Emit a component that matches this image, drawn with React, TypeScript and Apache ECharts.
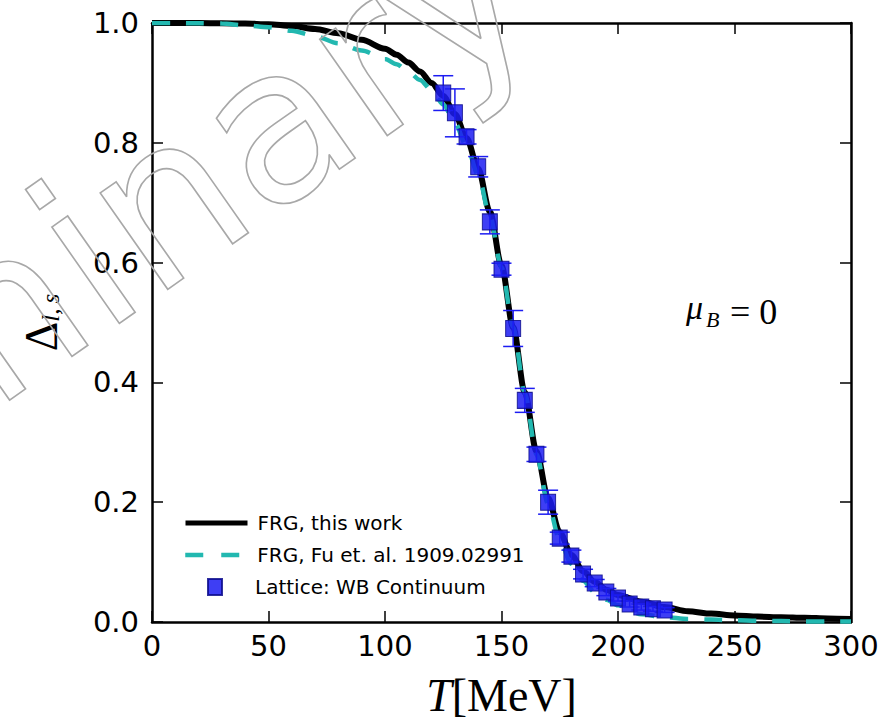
import React, { useEffect, useRef } from 'react';
import * as echarts from 'echarts';

// ---- data ----
const T_CURVE = [0, 10, 20, 30, 40, 50, 60, 70, 80, 90, 100, 105, 110, 115, 120, 125, 130, 135, 140, 145, 150, 155, 160, 165, 170, 175, 180, 185, 190, 195, 200, 210, 220, 230, 240, 250, 260, 270, 280, 290, 300];
const FRG_THIS_WORK = [1.0, 1.0, 1.0, 0.9995, 0.999, 0.998, 0.995, 0.99, 0.983, 0.972, 0.957, 0.947, 0.934, 0.919, 0.9, 0.878, 0.848, 0.808, 0.757, 0.685, 0.595, 0.492, 0.383, 0.285, 0.207, 0.15, 0.112, 0.085, 0.067, 0.054, 0.045, 0.034, 0.025, 0.018, 0.014, 0.011, 0.009, 0.008, 0.007, 0.006, 0.005];
const FRG_FU = [1.0, 1.0, 0.9995, 0.999, 0.996, 0.993, 0.987, 0.978, 0.966, 0.954, 0.94, 0.931, 0.919, 0.905, 0.888, 0.864, 0.833, 0.795, 0.746, 0.678, 0.592, 0.492, 0.382, 0.28, 0.197, 0.137, 0.097, 0.069, 0.05, 0.037, 0.028, 0.013, 0.008, 0.005, 0.004, 0.003, 0.002, 0.0015, 0.001, 0.001, 0.001];

const LAT_T = [125, 130, 135, 140, 145, 150, 155, 160, 165, 170, 175, 180, 185, 190, 195, 200, 205, 210, 215, 220];
const LAT_Y = [0.883, 0.85, 0.81, 0.76, 0.668, 0.589, 0.49, 0.37, 0.28, 0.2, 0.14, 0.11, 0.08, 0.065, 0.05, 0.04, 0.03, 0.025, 0.022, 0.02];
const LAT_ERR = [0.029, 0.04, 0.012, 0.017, 0.02, 0.01, 0.03, 0.02, 0.012, 0.02, 0.01, 0.01, 0.008, 0.006, 0.006, 0.005, 0.005, 0.005, 0.004, 0.004];

const X_TICKS = [0, 50, 100, 150, 200, 250, 300];
const Y_TICKS = [0.0, 0.2, 0.4, 0.6, 0.8, 1.0];

const NAME_THIS = 'FRG, this work';
const NAME_FU = 'FRG, Fu et. al. 1909.02991';
const NAME_LAT = 'Lattice: WB Continuum';

const BLUE = '#1c1cf2';
const CYAN = '#22b8b0';
const TICK_FONT = 'DejaVu Sans';
const SERIF = 'Liberation Serif';

function buildOption(): any {
  const axisLine = { show: true, onZero: false, lineStyle: { color: '#000', width: 2.5 } };
  const axisTick = { show: true, inside: true, length: 11, lineStyle: { color: '#000', width: 1.5 } };
  const xBase = { type: 'value', min: X_TICKS[0], max: X_TICKS[X_TICKS.length - 1], interval: X_TICKS[1] - X_TICKS[0], splitLine: { show: false }, axisLine, axisTick };
  const yBase = { type: 'value', min: Y_TICKS[0], max: Y_TICKS[Y_TICKS.length - 1], interval: 0.2, splitLine: { show: false }, axisLine, axisTick };
  const legendText = { fontSize: 20, fontFamily: TICK_FONT, color: '#000' };
  return {
    animation: false,
    backgroundColor: '#fff',
    grid: { left: 152, right: 35, top: 23, bottom: 103, containLabel: false },
    xAxis: [
      {
        ...xBase,
        position: 'bottom',
        axisLabel: { color: '#000', fontSize: 29, fontFamily: TICK_FONT, margin: 9 },
        name: '{t|T}{r|[MeV]}',
        nameLocation: 'middle',
        nameGap: 50,
        nameTextStyle: {
          rich: {
            t: { fontSize: 46, fontFamily: SERIF, fontStyle: 'italic', color: '#000' },
            r: { fontSize: 46, fontFamily: SERIF, color: '#000' },
          },
        },
      },
      { ...xBase, position: 'top', axisLabel: { show: false } },
    ],
    yAxis: [
      {
        ...yBase,
        position: 'left',
        axisLabel: { color: '#000', fontSize: 29, fontFamily: TICK_FONT, margin: 13, formatter: (v: number) => v.toFixed(1) },
        name: '{d|Δ}{s|l,\u2009s}',
        nameLocation: 'middle',
        nameGap: 88,
        nameTextStyle: {
          rich: {
            d: { fontSize: 46, fontFamily: SERIF, color: '#000' },
            s: { fontSize: 25, fontFamily: SERIF, fontStyle: 'italic', color: '#000', padding: [18, 0, 0, 0] },
          },
        },
      },
      { ...yBase, position: 'right', axisLabel: { show: false } },
    ],
    legend: [
      {
        data: [NAME_THIS], left: 178, top: 508, itemWidth: 62, itemHeight: 20,
        itemStyle: { opacity: 0, borderWidth: 0 },
        lineStyle: { width: 5, color: '#000' },
        textStyle: { ...legendText, padding: [0, 0, 0, 5] },
      },
      {
        data: [NAME_FU], left: 178, top: 540, itemWidth: 62, itemHeight: 20,
        itemStyle: { opacity: 0, borderWidth: 0 },
        lineStyle: { width: 4.5, color: CYAN, type: [18, 18] },
        textStyle: { ...legendText, padding: [0, 0, 0, 5] },
      },
      {
        data: [NAME_LAT], left: 202, top: 572, itemWidth: 14, itemHeight: 16,
        textStyle: { ...legendText, padding: [0, 0, 0, 28] },
      },
    ],
    graphic: [
      {
        type: 'text', x: 686, y: 324, z: 50,
        style: { text: 'μ', fontSize: 34, fontStyle: 'italic', fontFamily: SERIF, fill: '#000', verticalAlign: 'bottom' },
      },
      {
        type: 'text', x: 706, y: 330, z: 50,
        style: { text: 'B', fontSize: 22, fontStyle: 'italic', fontFamily: SERIF, fill: '#000', verticalAlign: 'bottom' },
      },
      {
        type: 'text', x: 730, y: 330, z: 50,
        style: { text: '= 0', fontSize: 36, fontFamily: SERIF, fill: '#000', verticalAlign: 'bottom' },
      },
      {
        type: 'text', x: 505, y: -38, rotation: (35 * Math.PI) / 180, z: 100, silent: true,
        style: { text: 'Preliminary', fontSize: 215, fontFamily: 'DejaVu Sans', fill: 'none', stroke: '#a8a8a8', lineWidth: 1.6, align: 'right', verticalAlign: 'middle' },
      },
    ],
    series: [
      {
        name: NAME_THIS, type: 'line', xAxisIndex: 0, yAxisIndex: 0,
        data: T_CURVE.map((t, i) => [t, FRG_THIS_WORK[i]]),
        symbol: 'none', showSymbol: false, smooth: 0.3, smoothMonotone: 'x',
        lineStyle: { color: '#000', width: 6 }, itemStyle: { color: '#000' }, z: 2,
      },
      {
        name: NAME_FU, type: 'line', xAxisIndex: 0, yAxisIndex: 0,
        data: T_CURVE.map((t, i) => [t, FRG_FU[i]]),
        symbol: 'none', showSymbol: false, smooth: 0.3, smoothMonotone: 'x',
        lineStyle: { color: CYAN, width: 4.5, type: [18, 16] }, itemStyle: { color: CYAN }, z: 3,
      },
      {
        name: 'errors', type: 'custom', xAxisIndex: 0, yAxisIndex: 0,
        data: LAT_T.map((t, i) => [t, LAT_Y[i], LAT_ERR[i]]),
        encode: { x: 0, y: 1 },
        z: 4,
        renderItem: (params: any, api: any) => {
          const x = api.value(0);
          const y = api.value(1);
          const e = api.value(2);
          const top = api.coord([x, y + e]);
          const bot = api.coord([x, y - e]);
          const cap = 10;
          const st = { stroke: BLUE, lineWidth: 1.5 };
          return {
            type: 'group',
            children: [
              { type: 'line', shape: { x1: top[0], y1: top[1], x2: bot[0], y2: bot[1] }, style: st },
              { type: 'line', shape: { x1: top[0] - cap, y1: top[1], x2: top[0] + cap, y2: top[1] }, style: st },
              { type: 'line', shape: { x1: bot[0] - cap, y1: bot[1], x2: bot[0] + cap, y2: bot[1] }, style: st },
            ],
          };
        },
      },
      {
        name: NAME_LAT, type: 'scatter', xAxisIndex: 0, yAxisIndex: 0,
        data: LAT_T.map((t, i) => [t, LAT_Y[i]]),
        symbol: 'rect', symbolSize: [15, 16],
        itemStyle: { color: BLUE, opacity: 0.85, borderColor: '#0c0c8c', borderWidth: 1 },
        z: 5,
      },
    ],
  };
}

export default function App() {
  const ref = useRef<HTMLDivElement>(null);
  useEffect(() => {
    if (!ref.current) return;
    const chart = echarts.init(ref.current, null, { renderer: 'svg' });
    chart.setOption(buildOption());
    return () => chart.dispose();
  }, []);
  return <div ref={ref} style={{ position: 'absolute', left: 0, top: 0, width: 886, height: 725 }} />;
}
